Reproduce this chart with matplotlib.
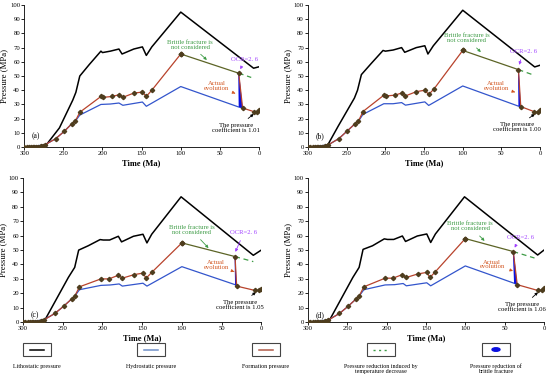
import matplotlib
matplotlib.use("Agg")
import matplotlib.pyplot as plt
from matplotlib.patches import Rectangle, Ellipse
from matplotlib.lines import Line2D

plt.rcParams['font.family'] = ['Liberation Serif', 'DejaVu Serif']

# ---------------- data (Ma, MPa) ----------------
early_t = [300, 297, 294, 291, 289, 287, 285, 282, 280, 278, 276, 274]
early_p = [0, 0, 0, 0, 0, 0, 0, 0, 0, 0.5, 1, 1.5]

# panel (a)
a_litho_t = [300, 274, 255, 238, 234, 229, 217, 202, 200, 190, 179, 175, 160, 149, 144, 137, 100, 7, 0]
a_litho_p = [0, 0, 13.5, 33, 38.5, 50, 58, 67.5, 66.5, 67.5, 69, 65.5, 69, 70.5, 64.5, 70.5, 95, 55.5, 56.5]
a_hydro_t = [300, 274, 260, 249, 239, 235, 229, 202, 190, 179, 174, 149, 144, 100, 26, 21]
a_hydro_p = [0, 1.5, 5.8, 11, 16.5, 18, 22.5, 30, 30.3, 31, 29.4, 31.7, 28.7, 42.6, 28.2, 27.5]
a_form_t = [260, 249, 239, 235, 229, 202, 199, 188, 179, 174, 160, 149, 144, 137, 100]
a_form_p = [5.8, 11, 16.5, 18, 24.5, 35.6, 35, 35.6, 36.8, 35, 38, 38.7, 35.7, 40, 65.5]
a_after_t = [26, 21, 7, 3, 0]
a_after_p = [52, 27.5, 25, 24.5, 26]
a_nofrac_t = [100, 26]
a_nofrac_p = [65.5, 52]
a_dash_t = [26, 10]
a_dash_p = [52, 49]

# panel (b)
b_litho_t = [300, 276, 261, 240, 236, 231, 218, 203, 200, 190, 179, 175, 160, 149, 145, 138, 100, 7, 0]
b_litho_p = [0, 0, 14.7, 34.5, 40, 51, 59, 68, 67.5, 68.3, 70, 66.7, 70, 71.3, 65.5, 71.3, 96.3, 56.4, 57.6]
b_hydro_t = [300, 274, 260, 249, 239, 235, 229, 202, 190, 179, 174, 149, 144, 100, 28, 25]
b_hydro_p = [0, 1.5, 6, 11.5, 16.5, 18, 23, 30.5, 30.5, 31.3, 29.5, 31.8, 29.3, 43, 28.8, 28.5]
b_form_t = [260, 249, 239, 235, 229, 202, 199, 188, 179, 174, 160, 149, 144, 137, 100]
b_form_p = [6, 11.5, 16.5, 18, 25, 36.5, 36, 36.5, 38, 36, 39, 40, 37, 41, 68]
b_after_t = [28, 25, 8, 3, 0]
b_after_p = [54.5, 28.5, 25, 24.5, 26]
b_nofrac_t = [100, 28]
b_nofrac_p = [68, 54.5]
b_dash_t = [28, 10]
b_dash_p = [54.5, 51]

# panel (c)
c_litho_t = [300, 274, 260, 243, 235, 230, 218, 203, 199, 191, 180, 176, 161, 149, 144, 138, 101, 10, 0]
c_litho_p = [0, 0, 14, 31, 38, 50, 53, 57.3, 57, 57, 59.6, 55.7, 59.6, 61, 55, 61, 87, 46.4, 50]
c_hydro_t = [300, 274, 260, 249, 239, 235, 229, 202, 190, 179, 175, 149, 144, 100, 33, 31]
c_hydro_p = [0, 1.5, 6, 11, 16, 18, 22.5, 25.5, 25.8, 26.5, 25, 27, 25, 38.5, 26, 25]
c_form_t = [260, 249, 239, 235, 229, 202, 192, 180, 175, 160, 149, 145, 138, 100]
c_form_p = [6, 11, 16, 18, 24.5, 30, 30, 32.5, 30.5, 33, 34, 30.5, 34.5, 55]
c_after_t = [33, 31, 8, 3, 0]
c_after_p = [45.5, 25, 22, 22, 23]
c_nofrac_t = [100, 33]
c_nofrac_p = [55, 45.5]
c_dash_t = [33, 10]
c_dash_p = [45.5, 42]

# panel (d)
d_litho_t = [300, 274, 260, 243, 235, 230, 218, 203, 199, 191, 180, 176, 161, 149, 144, 138, 101, 8, 0]
d_litho_p = [0, 0, 14, 31, 38, 50.5, 53, 57.8, 57.4, 57.4, 59.8, 56, 59.8, 61.2, 55.3, 61.2, 87, 46.6, 50]
d_hydro_t = [300, 274, 260, 249, 239, 235, 229, 202, 190, 179, 175, 149, 144, 100, 38, 34]
d_hydro_p = [0, 1.5, 6, 11, 16, 18, 22.5, 25.8, 26, 26.8, 25.2, 27.3, 25.2, 39, 27, 26]
d_form_t = [260, 249, 239, 235, 229, 202, 192, 180, 175, 160, 149, 145, 138, 100]
d_form_p = [6, 11, 16, 18, 24.5, 30.5, 30.5, 33, 31, 33.5, 34.5, 31, 35, 58]
d_after_t = [39, 34, 8, 3, 0]
d_after_p = [49, 26, 22, 22, 23.5]
d_nofrac_t = [100, 39]
d_nofrac_p = [58, 49]
d_dash_t = [39, 12]
d_dash_p = [49, 44.5]

coefs = ['1.01', '1.00', '1.05', '1.06']
labels = ['(a)', '(b)', '(c)', '(d)']

legend_names = ['Lithostatic pressure', 'Hydrostatic pressure', 'Formation pressure',
                'Pressure reduction induced by\ntemperature decrease',
                'Pressure reduction of\nbrittle fracture']

# text placements (Ma, MPa): brittle text, brittle arrow tip, OCR text, OCR tip,
# actual text, actual tip, coef text, coef tip
notes = [
    [(88, 72), (64, 60), (18, 61.5), (25.5, 53), (54, 43), (27, 37), (29, 13.5), (4, 24.5)],
    [(95, 76.5), (74, 65.5), (22, 67), (28, 56), (57, 43), (29, 38), (30, 14), (4, 24.5)],
    [(88, 64), (64, 50), (22, 62), (34, 47), (57, 39.5), (34, 35), (27, 12), (4, 22)],
    [(94, 66.5), (73, 55), (30, 59), (39, 50), (66, 40), (36, 35), (28, 10.5), (5, 22)],
]

panels = [
    (a_litho_t, a_litho_p, a_hydro_t, a_hydro_p, a_form_t, a_form_p, a_after_t, a_after_p,
     a_nofrac_t, a_nofrac_p, a_dash_t, a_dash_p),
    (b_litho_t, b_litho_p, b_hydro_t, b_hydro_p, b_form_t, b_form_p, b_after_t, b_after_p,
     b_nofrac_t, b_nofrac_p, b_dash_t, b_dash_p),
    (c_litho_t, c_litho_p, c_hydro_t, c_hydro_p, c_form_t, c_form_p, c_after_t, c_after_p,
     c_nofrac_t, c_nofrac_p, c_dash_t, c_dash_p),
    (d_litho_t, d_litho_p, d_hydro_t, d_hydro_p, d_form_t, d_form_p, d_after_t, d_after_p,
     d_nofrac_t, d_nofrac_p, d_dash_t, d_dash_p),
]

positions = [
    [0.044, 0.616, 0.427, 0.371],
    [0.560, 0.616, 0.422, 0.371],
    [0.042, 0.159, 0.433, 0.376],
    [0.560, 0.159, 0.429, 0.376],
]

RED = '#b8432c'
MK = '#4e3d1e'
OLIVE = '#5c6426'
GREEN = '#3d9b45'

fig = plt.figure(figsize=(5.5, 3.83), dpi=100)

for i, (lt, lp, ht, hp, ft, fp, at, ap, nt, np_, dt, dp) in enumerate(panels):
    ax = fig.add_axes(positions[i])
    ax.plot(lt, lp, color='black', lw=1.1, zorder=2)
    ax.plot(ht, hp, color='#3355cc', lw=0.9, zorder=2)
    # formation pressure: early + rise up to 100 Ma
    ax.plot(early_t + ft, early_p + fp, color=RED, lw=0.9, marker='D', ms=2.2,
            mfc=MK, mec=MK, zorder=4)
    ax.plot(nt, np_, color=OLIVE, lw=0.9, zorder=4)
    ax.plot(dt, dp, color=GREEN, lw=0.9, ls=(0, (4, 3)), zorder=3)
    # brittle fracture drop
    ax.fill([at[0] + 0.6, at[0] - 0.6, at[1], ht[-2]],
            [ap[0], ap[0], ap[1], hp[-2]], color='#0a10e0', lw=0, zorder=5)
    ax.plot(at, ap, color=RED, lw=0.9, marker='D', ms=2.2, mfc=MK, mec=MK, zorder=6)
    ax.plot(nt[0], np_[0], marker='D', ms=2.4, color=MK, zorder=7)

    ax.set_xlim(300, 0)
    ax.set_ylim(0, 100)
    ax.set_xticks([300, 250, 200, 150, 100, 50, 0])
    ax.set_yticks(range(0, 101, 10))
    ax.tick_params(labelsize=4.8, length=2, width=0.6, pad=1)
    for s in ['top', 'right']:
        ax.spines[s].set_visible(False)
    for s in ['left', 'bottom']:
        ax.spines[s].set_linewidth(0.6)
    ax.set_ylabel('Pressure (MPa)', fontsize=6.3, labelpad=1)
    ax.set_xlabel('Time (Ma)', fontsize=6, fontweight='bold', labelpad=2)

    n = notes[i]
    ax.text(285, 8 if i < 2 else 5, labels[i], fontsize=5.5, ha='center', va='center')
    ax.annotate('Brittle fracture is\nnot considered', xy=n[1], xytext=n[0],
                fontsize=4.8, color=GREEN, ha='center', va='center', linespacing=0.95,
                arrowprops=dict(arrowstyle='-|>', color=GREEN, lw=0.6, mutation_scale=4))
    ax.annotate('OCR=2. 6', xy=n[3], xytext=n[2],
                fontsize=4.8, color='#a040ff', ha='center', va='center',
                arrowprops=dict(arrowstyle='-|>', color='#a040ff', lw=0.6, mutation_scale=4))
    ax.annotate('Actual\nevolution', xy=n[5], xytext=n[4],
                fontsize=4.8, color='#d2541e', ha='center', va='center', linespacing=0.95,
                arrowprops=dict(arrowstyle='-|>', color='#d2541e', lw=0.6, mutation_scale=4))
    ax.annotate('The pressure\ncoefficient is ' + coefs[i], xy=n[7], xytext=n[6],
                fontsize=4.8, color='black', ha='center', va='center', linespacing=0.95,
                arrowprops=dict(arrowstyle='-|>', color='black', lw=0.6, mutation_scale=4))

# legend row
leg = fig.add_axes([0, 0, 1, 0.12])
leg.set_xlim(0, 550)
leg.set_ylim(46, 0)
leg.axis('off')
box_x = [23, 137, 252, 367, 482]
box_w = 28
for k, bx in enumerate(box_x):
    leg.add_patch(Rectangle((bx, 6), box_w, 13, fill=False, lw=0.8, ec='#444444'))
    cx = bx + box_w / 2
    if k == 0:
        leg.add_line(Line2D([cx - 7, cx + 7], [12.5, 12.5], color='black', lw=1.1))
    elif k == 1:
        leg.add_line(Line2D([cx - 7, cx + 7], [12.5, 12.5], color='#6f8fc8', lw=1.1))
    elif k == 2:
        leg.add_line(Line2D([cx - 7, cx + 7], [12.5, 12.5], color='#b05a48', lw=1.1))
    elif k == 3:
        leg.add_line(Line2D([cx - 8, cx + 8], [12.5, 12.5], color=GREEN, lw=1.0,
                            ls=(0, (1.5, 2.5))))
    else:
        leg.add_patch(Ellipse((cx, 12.5), 8, 3.5, color='#0a10e0'))
    leg.text(cx, 27, legend_names[k], fontsize=4.3, ha='center', va='top', linespacing=1.0)

fig.savefig('out.png', dpi=100)
